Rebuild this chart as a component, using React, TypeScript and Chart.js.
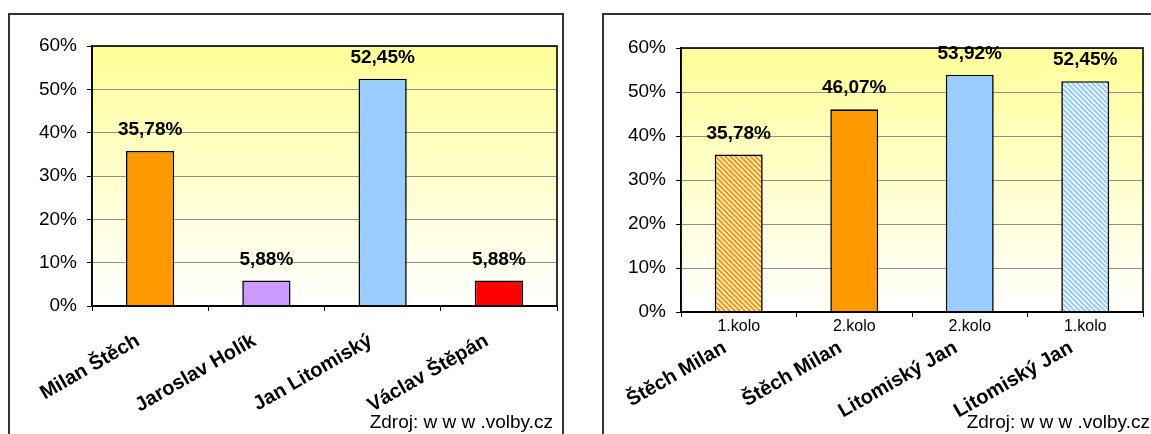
import React, { useEffect, useRef } from 'react';
import { Chart, registerables } from 'chart.js';

Chart.register(...registerables);

const FONT = "'Liberation Sans', Arial, Helvetica, sans-serif";

// ---- data: left chart (1st round) ----
const leftCategories = ['Milan Štěch', 'Jaroslav Holík', 'Jan Litomiský', 'Václav Štěpán'];
const leftValues = [35.78, 5.88, 52.45, 5.88];
const leftColors = ['#FF9900', '#CC99FF', '#99CCFF', '#FF0000'];

// ---- data: right chart (comparison of rounds) ----
const rightNames = ['Štěch Milan', 'Štěch Milan', 'Litomiský Jan', 'Litomiský Jan'];
const rightRounds = ['1.kolo', '2.kolo', '2.kolo', '1.kolo'];
const rightValues = [35.78, 46.07, 53.92, 52.45];
const rightColors = ['#FF9900', '#FF9900', '#99CCFF', '#99CCFF'];
const rightHatched = [true, false, false, true];

// ---- axis ----
const yMin = 0;
const yMax = 60;
const yStep = 10;
const sourceText = 'Zdroj: w w w .volby.cz';

const fmt = (v: number) => v.toFixed(2).replace('.', ',') + '%';

function hatch(color: string): CanvasPattern | string {
  const s = 5;
  const c = document.createElement('canvas');
  c.width = s;
  c.height = s;
  const x = c.getContext('2d');
  if (!x) return color;
  x.fillStyle = '#FFFFFF';
  x.fillRect(0, 0, s, s);
  x.strokeStyle = color;
  x.lineWidth = 2.2;
  for (let k = -2; k <= 2; k++) {
    x.beginPath();
    x.moveTo(-s, -s + k * s);
    x.lineTo(2 * s, 2 * s + k * s);
    x.stroke();
  }
  const p = x.createPattern(c, 'repeat');
  return p || color;
}

const plotDecor = {
  id: 'plotDecor',
  beforeDraw(chart: any) {
    const { ctx, chartArea: a } = chart;
    const g = ctx.createLinearGradient(0, a.top, 0, a.bottom);
    g.addColorStop(0, '#FFFF99');
    g.addColorStop(1, '#FFFFFF');
    ctx.save();
    ctx.fillStyle = g;
    ctx.fillRect(a.left, a.top, a.right - a.left, a.bottom - a.top);
    ctx.restore();
  },
  afterDraw(chart: any) {
    const { ctx, chartArea: a } = chart;
    ctx.save();
    ctx.strokeStyle = '#000';
    ctx.lineWidth = 1.6;
    ctx.strokeRect(a.left, a.top, a.right - a.left, a.bottom - a.top);
    ctx.restore();
  },
};

const valueLabels = {
  id: 'valueLabels',
  afterDatasetsDraw(chart: any) {
    const { ctx } = chart;
    const meta = chart.getDatasetMeta(0);
    const data = chart.data.datasets[0].data as number[];
    ctx.save();
    ctx.font = `bold 19px ${FONT}`;
    ctx.fillStyle = '#000';
    ctx.textAlign = 'center';
    ctx.textBaseline = 'alphabetic';
    meta.data.forEach((bar: any, i: number) => {
      ctx.fillText(fmt(data[i]), bar.x, bar.y - 16);
    });
    ctx.restore();
  },
};

function yScale(width: number) {
  return {
    min: yMin,
    max: yMax,
    ticks: {
      stepSize: yStep,
      callback: (v: any) => v + '%',
      color: '#000',
      font: { family: FONT, size: 19 },
      padding: 10,
    },
    grid: { color: '#8f8f8f', lineWidth: 1, tickColor: '#000', tickLength: 5 },
    border: { color: '#000', width: 1.6 },
    afterFit: (s: any) => {
      s.width = width;
    },
  };
}

const tickGrid = {
  display: true,
  drawOnChartArea: false,
  drawTicks: true,
  tickLength: 5,
  tickColor: '#000',
  offset: true,
};

export default function App() {
  const leftRef = useRef<HTMLCanvasElement>(null);
  const rightRef = useRef<HTMLCanvasElement>(null);

  useEffect(() => {
    const charts: Chart[] = [];
    if (leftRef.current) {
      charts.push(
        new Chart(leftRef.current, {
          type: 'bar',
          data: {
            labels: leftCategories,
            datasets: [
              {
                data: leftValues,
                backgroundColor: leftColors,
                borderColor: '#000',
                borderWidth: 1.6,
                categoryPercentage: 1,
                barPercentage: 0.415,
              },
            ],
          },
          options: {
            animation: false,
            responsive: false,
            devicePixelRatio: 1,
            events: [],
            layout: { padding: { top: 31, right: 5, left: 0, bottom: 0 } },
            plugins: { legend: { display: false }, tooltip: { enabled: false } },
            scales: {
              x: {
                grid: tickGrid,
                border: { color: '#000', width: 2 },
                ticks: {
                  color: '#000',
                  font: { family: FONT, size: 20, weight: 'bold' },
                  maxRotation: 30,
                  minRotation: 30,
                  padding: 18,
                  labelOffset: -12,
                  autoSkip: false,
                },
                afterFit: (s: any) => {
                  s.height = 128;
                },
              },
              y: yScale(82),
            },
          } as any,
          plugins: [plotDecor, valueLabels],
        })
      );
    }
    if (rightRef.current) {
      charts.push(
        new Chart(rightRef.current, {
          type: 'bar',
          data: {
            labels: rightRounds,
            datasets: [
              {
                data: rightValues,
                backgroundColor: rightColors.map((c, i) => (rightHatched[i] ? hatch(c) : c)),
                borderColor: '#000',
                borderWidth: 1.6,
                categoryPercentage: 1,
                barPercentage: 0.415,
              },
            ],
          },
          options: {
            animation: false,
            responsive: false,
            devicePixelRatio: 1,
            events: [],
            layout: { padding: { top: 33, right: 13, left: 0, bottom: 0 } },
            plugins: { legend: { display: false }, tooltip: { enabled: false } },
            scales: {
              x: {
                position: 'bottom',
                weight: 0,
                grid: tickGrid,
                border: { color: '#000', width: 2 },
                ticks: {
                  color: '#000',
                  font: { family: FONT, size: 16 },
                  maxRotation: 0,
                  minRotation: 0,
                  padding: 0,
                  autoSkip: false,
                },
                afterFit: (s: any) => {
                  s.height = 24;
                },
              },
              x2: {
                type: 'category',
                labels: rightNames,
                position: 'bottom',
                weight: 1,
                offset: true,
                grid: { display: false },
                border: { display: false },
                ticks: {
                  color: '#000',
                  font: { family: FONT, size: 20, weight: 'bold' },
                  maxRotation: 30,
                  minRotation: 30,
                  padding: -8,
                  labelOffset: -14,
                  autoSkip: false,
                },
                afterFit: (s: any) => {
                  s.height = 98;
                },
              },
              y: yScale(77),
            },
          } as any,
          plugins: [plotDecor, valueLabels],
        })
      );
    }
    return () => charts.forEach((c) => c.destroy());
  }, []);

  const box: React.CSSProperties = {
    position: 'absolute',
    top: 13,
    width: 556,
    height: 440,
    boxSizing: 'border-box',
    border: '2px solid #333',
    background: '#fff',
  };
  const src: React.CSSProperties = {
    position: 'absolute',
    top: 412,
    width: 300,
    textAlign: 'right',
    font: `19px ${FONT}`,
    lineHeight: '19px',
    color: '#000',
    whiteSpace: 'nowrap',
  };

  return (
    <div style={{ position: 'fixed', left: 0, top: 0, width: 1151, height: 434, overflow: 'hidden', background: '#fff' }}>
      <div style={{ ...box, left: 8 }} />
      <div style={{ ...box, left: 602 }} />
      <canvas ref={leftRef} width={552} height={419} style={{ position: 'absolute', left: 10, top: 15 }} />
      <canvas ref={rightRef} width={552} height={419} style={{ position: 'absolute', left: 604, top: 15 }} />
      <div style={{ ...src, left: 553 - 300 }}>{sourceText}</div>
      <div style={{ ...src, left: 1150 - 300 }}>{sourceText}</div>
    </div>
  );
}
